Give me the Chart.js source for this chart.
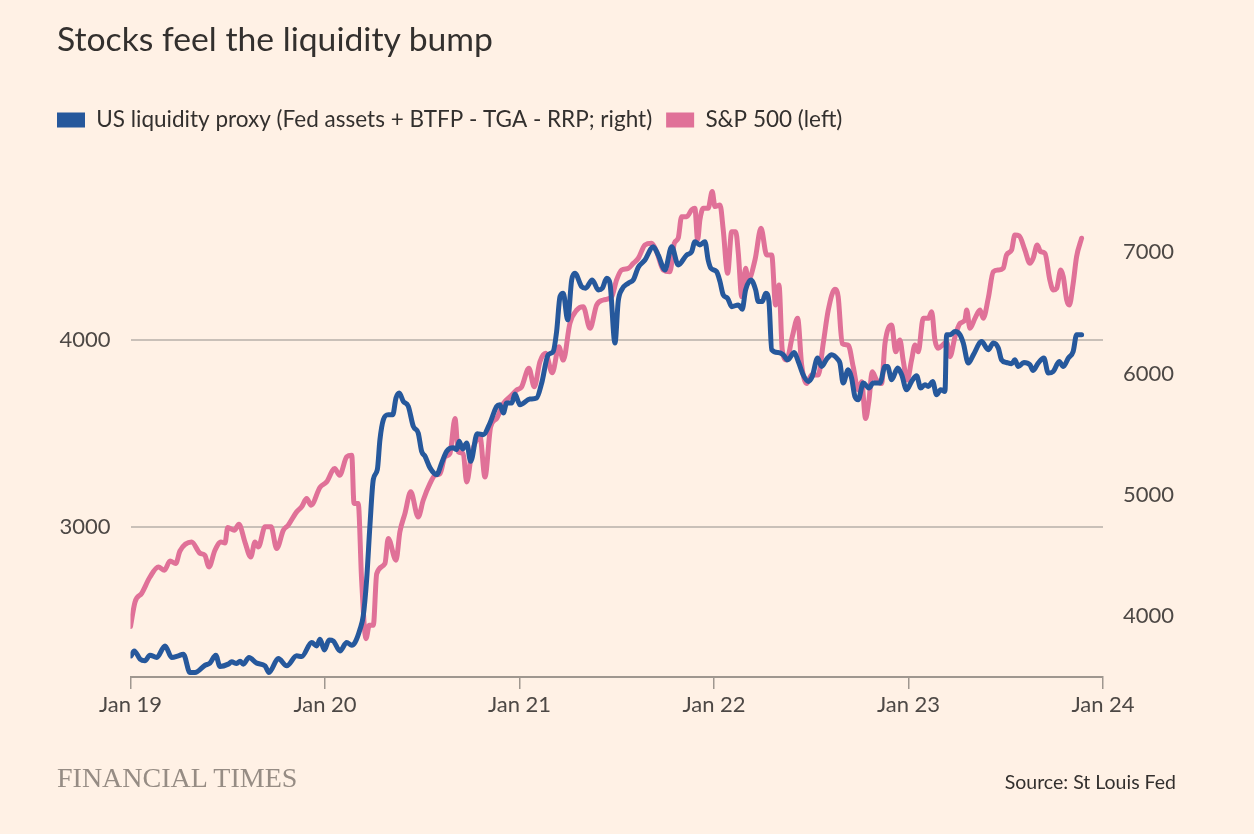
<!DOCTYPE html>
<html>
<head>
<meta charset="utf-8">
<script src="https://cdn.jsdelivr.net/npm/chart.js@4.4.0/dist/chart.umd.min.js"></script>
<style>
html, body { margin: 0; padding: 0; background: #fff1e5; }
#wrap { position: relative; width: 1254px; height: 834px; overflow: hidden; }
canvas { position: absolute; left: 0; top: 0; }
#title { position: absolute; left: 57px; top: 18px; font-family: 'Lato'; font-size: 33.7px; color: #33302e; white-space: nowrap; }
#ft { position: absolute; left: 57px; top: 762px; font-family: 'Liberation Serif'; font-size: 28px; color: #968c84; white-space: nowrap; }
#source { position: absolute; right: 78px; top: 770px; font-family: 'Lato'; font-size: 19.5px; color: #33302e; white-space: nowrap; }
</style>
</head>
<body>
<div id="wrap">
<canvas id="LiquidityChart" width="1254" height="834"></canvas>
<div id="title">Stocks feel the liquidity bump</div>
<div id="ft">FINANCIAL TIMES</div>
<div id="source">Source: St Louis Fed</div>
</div>
<script>
// months since Jan 2019
const liqMonths = [
    0.03, 0.23, 0.59, 0.89, 1.2, 1.62, 2.13, 2.54, 2.95, 3.26, 3.67, 3.98, 4.6, 4.9, 5.26, 5.52,
    6.03, 6.24, 6.55, 6.76, 6.96, 7.31, 7.79, 8.3, 8.54, 9.12, 9.64, 10.25, 10.56, 11.18, 11.49, 11.69,
    11.96, 12.25, 12.51, 12.92, 13.34, 13.65, 13.85, 14.16, 14.36, 14.57, 14.77, 14.98, 15.23, 15.39,
    15.6, 15.9, 16.18, 16.38, 16.58, 16.83, 17.14, 17.45, 17.75, 17.96, 18.17, 18.48, 18.89, 19.2,
    19.51, 19.91, 20.12, 20.28, 20.49, 20.74, 20.99, 21.39, 21.76, 22.18, 22.59, 22.79, 23.0, 23.21,
    23.52, 23.72, 24.03, 24.64, 25.06, 25.37, 25.77, 26.08, 26.29, 26.5, 26.7, 26.97, 27.22, 27.42,
    27.83, 28.08, 28.49, 28.86, 29.11, 29.38, 29.58, 29.89, 30.09, 30.3, 30.71, 31.02, 31.33, 31.74,
    32.25, 32.56, 32.97, 33.39, 33.79, 34.31, 34.62, 34.82, 35.13, 35.44, 35.64, 35.81, 36.16, 36.37,
    36.57, 36.84, 37.09, 37.5, 37.74, 37.95, 38.28, 38.57, 38.73, 38.98, 39.19, 39.39, 39.56, 39.96,
    40.27, 40.54, 40.95, 41.2, 41.5, 41.81, 42.06, 42.39, 42.64, 42.95, 43.26, 43.66, 43.77, 43.97,
    44.28, 44.49, 44.69, 44.9, 45.21, 45.56, 45.82, 46.24, 46.55, 46.71, 46.96, 47.33, 47.58, 47.88,
    48.19, 48.5, 48.75, 49.01, 49.22, 49.49, 49.73, 49.98, 50.25, 50.35, 50.56, 50.87, 51.18, 51.38,
    51.69, 52.0, 52.51, 52.92, 53.23, 53.54, 53.74, 54.05, 54.36, 54.56, 54.77, 55.12, 55.49, 55.69,
    56.0, 56.35, 56.62, 56.93, 57.3, 57.55, 57.86, 58.16, 58.37, 58.68
];
const liqValues = [
    3674, 3715, 3647, 3633, 3680, 3661, 3756, 3661, 3674, 3688, 3537, 3537, 3597, 3614, 3680, 3587,
    3606, 3625, 3611, 3630, 3606, 3661, 3614, 3592, 3537, 3652, 3592, 3674, 3669, 3784, 3756, 3811,
    3723, 3805, 3797, 3715, 3784, 3762, 3784, 3893, 4003, 4304, 4742, 5126, 5208, 5455,
    5619, 5660, 5660, 5798, 5839, 5770, 5729, 5564, 5510, 5359, 5318, 5222, 5167, 5263,
    5359, 5387, 5373, 5441, 5378, 5428, 5276, 5504, 5496, 5592, 5729, 5742, 5674, 5756,
    5756, 5830, 5742, 5789, 5798, 5921, 6153, 6181, 6345, 6633, 6661, 6441, 6770, 6825,
    6715, 6702, 6770, 6688, 6702, 6784, 6743, 6250, 6592, 6688, 6743, 6770, 6874, 6934,
    7044, 6975, 6852, 7044, 6893, 6975, 7002, 7085, 7058, 7085, 6934, 6866, 6838, 6756,
    6647, 6619, 6550, 6564, 6529, 6688, 6770, 6688, 6592, 6592, 6661, 6592, 6195, 6172,
    6154, 6112, 6172, 6098, 5989, 5934, 5975, 6126, 6057, 6118, 6154, 6112, 6085, 5921,
    6030, 5962, 5811, 5784, 5921, 5880, 5921, 5921, 6057, 6057, 5948, 6044, 5989, 5866,
    5934, 5981, 5880, 5907, 5893, 5934, 5825, 5866, 5852, 6318, 6318, 6345, 6318, 6250,
    6085, 6153, 6263, 6195, 6250, 6209, 6112, 6090, 6079, 6112, 6057, 6090, 6071, 6024,
    6085, 6126, 6003, 6016, 6098, 6057, 6126, 6181, 6318, 6318
];

const spMonths = [
    0.0, 0.28, 0.69, 1.2, 1.72, 2.09, 2.44, 2.79, 3.05, 3.77, 4.29, 4.59, 4.84, 5.21, 5.58, 5.83,
    6.0, 6.4, 6.69, 7.06, 7.42, 7.68, 7.89, 8.3, 8.67, 9.02, 9.43, 9.73, 10.25, 10.56, 10.87, 11.14,
    11.69, 12.1, 12.6, 12.9, 13.34, 13.65, 13.79, 14.05, 14.26, 14.53, 14.73, 14.98, 15.19, 15.7,
    15.9, 16.38, 16.62, 16.93, 17.29, 17.75, 18.06, 18.48, 18.79, 19.1, 19.4, 19.71, 20.02, 20.22,
    20.53, 20.74, 21.05, 21.56, 21.87, 22.22, 22.59, 23.0, 23.41, 23.83, 24.13, 24.58, 24.91, 25.26,
    25.61, 26.02, 26.43, 26.7, 27.11, 27.53, 27.93, 28.35, 28.76, 29.17, 29.69, 29.99, 30.3, 30.71,
    31.02, 31.33, 31.74, 32.15, 32.46, 32.87, 33.28, 33.55, 33.79, 34.0, 34.31, 34.62, 34.82, 34.99,
    35.13, 35.34, 35.64, 35.89, 36.06, 36.37, 36.57, 36.84, 37.09, 37.34, 37.5, 37.71, 37.95, 38.11,
    38.53, 38.9, 39.25, 39.56, 39.8, 40.01, 40.21, 40.48, 40.83, 41.16, 41.41, 41.72, 42.02, 42.43,
    42.74, 43.05, 43.46, 43.66, 43.91, 44.28, 44.59, 44.9, 45.11, 45.35, 45.56, 45.76, 46.03, 46.34,
    46.55, 46.96, 47.21, 47.47, 47.67, 47.92, 48.19, 48.4, 48.6, 48.91, 49.22, 49.43, 49.63, 49.83,
    50.1, 50.35, 50.56, 50.87, 51.18, 51.48, 51.59, 51.79, 52.1, 52.41, 52.61, 52.92, 53.23, 53.54,
    53.84, 54.05, 54.36, 54.56, 54.83, 55.18, 55.49, 55.69, 55.94, 56.15, 56.42, 56.72, 56.93, 57.14,
    57.39, 57.55, 57.76, 57.92, 58.16, 58.37, 58.68
];
const spValues = [
    2470, 2601, 2647, 2734, 2788, 2770, 2820, 2806, 2873, 2921, 2861, 2850, 2788, 2877, 2921, 2916,
    2998, 2984, 3016, 2921, 2841, 2921, 2895, 3002, 3002, 2886, 2984, 3011, 3082, 3109, 3153, 3118,
    3213, 3242, 3314, 3278, 3376, 3385, 3127, 3127, 2717, 2405, 2476, 2476, 2752, 2806,
    2940, 2824, 2975, 3073, 3189, 3055, 3144, 3234, 3278, 3287, 3376, 3394, 3581, 3403,
    3394, 3242, 3394, 3483, 3269, 3536, 3581, 3661, 3697, 3733, 3750, 3849, 3750, 3884,
    3929, 3825, 3964, 3893, 4089, 4160, 4178, 4063, 4187, 4214, 4232, 4321, 4374, 4383,
    4410, 4437, 4508, 4517, 4472, 4374, 4365, 4517, 4544, 4659, 4659, 4695, 4704, 4535,
    4642, 4704, 4704, 4793, 4713, 4722, 4588, 4357, 4579, 4579, 4464, 4232, 4383, 4321,
    4428, 4597, 4455, 4455, 4187, 4294, 3947, 3893, 4018, 4116, 3866, 3768, 3813, 3813,
    3982, 4160, 4271, 4232, 3982, 3973, 3857, 3733, 3777, 3581, 3679, 3830, 3786, 3768,
    3982, 4080, 3937, 4000, 3893, 3786, 3893, 3973, 3937, 4116, 4116, 4151, 4000, 3956,
    3973, 3991, 3911, 4018, 4089, 4107, 4160, 4063, 4116, 4160, 4116, 4223, 4365, 4374,
    4383, 4455, 4481, 4561, 4556, 4481, 4410, 4437, 4508, 4472, 4463, 4321, 4267, 4276,
    4374, 4338, 4214, 4187, 4303, 4445, 4544
];

const xTickMonths = [0, 12, 24, 36, 48, 60];
const xTickLabels = ['Jan 19', 'Jan 20', 'Jan 21', 'Jan 22', 'Jan 23', 'Jan 24'];
const leftTicks = [3000, 4000];
const rightTicks = [4000, 5000, 6000, 7000];

const fontFamily = 'Lato';
const textColor = '#33302e';
const tickColor = '#4d4845';

const data_Liquidity = {
    datasets: [{
        label: 'US liquidity proxy (Fed assets + BTFP - TGA - RRP; right)',
        data: liqMonths.map((m, i) => ({x: m, y: liqValues[i]})),
        yAxisID: 'yRight',
        borderColor: '#26589c',
        backgroundColor: '#26589c',
        borderWidth: 5,
        pointRadius: 0,
        cubicInterpolationMode: 'monotone',
        borderCapStyle: 'round',
        borderJoinStyle: 'round'
    }, {
        label: 'S&P 500 (left)',
        data: spMonths.map((m, i) => ({x: m, y: spValues[i]})),
        yAxisID: 'yLeft',
        borderColor: '#e07198',
        backgroundColor: '#e07198',
        borderWidth: 5,
        pointRadius: 0,
        cubicInterpolationMode: 'monotone',
        borderCapStyle: 'round',
        borderJoinStyle: 'round'
    }]
};

const config_Liquidity = {
    type: 'line',
    data: data_Liquidity,
    options: {
        responsive: false,
        animation: false,
        layout: {
            padding: {left: 43, right: 51, top: 94.75, bottom: 97}
        },
        scales: {
            x: {
                type: 'linear',
                min: 0,
                max: 60,
                afterBuildTicks: (scale) => { scale.ticks = xTickMonths.map(v => ({value: v})); },
                afterFit: (scale) => { scale.height = 60; },
                ticks: {
                    callback: (value, index) => xTickLabels[index],
                    autoSkip: false,
                    maxRotation: 0,
                    padding: 3,
                    color: tickColor,
                    font: {family: fontFamily, size: 22}
                },
                grid: {
                    drawOnChartArea: false,
                    drawTicks: true,
                    tickLength: 12,
                    color: '#9f978f',
                    lineWidth: 1.5
                },
                border: {color: '#9f978f', width: 2}
            },
            yLeft: {
                position: 'left',
                min: 2200,
                max: 5062,
                afterBuildTicks: (scale) => { scale.ticks = leftTicks.map(v => ({value: v})); },
                afterFit: (scale) => { scale.width = 87.5; },
                ticks: {
                    callback: (value) => String(value),
                    padding: 20,
                    color: tickColor,
                    font: {family: fontFamily, size: 22}
                },
                grid: {color: '#c9c0b8', lineWidth: 2, drawTicks: false},
                border: {display: false}
            },
            yRight: {
                position: 'right',
                min: 3500,
                max: 7912,
                afterBuildTicks: (scale) => { scale.ticks = rightTicks.map(v => ({value: v})); },
                afterFit: (scale) => { scale.width = 100; },
                ticks: {
                    callback: (value) => String(value),
                    padding: 20,
                    color: tickColor,
                    font: {family: fontFamily, size: 22}
                },
                grid: {display: false, drawTicks: false},
                border: {display: false}
            }
        },
        plugins: {
            legend: {
                position: 'top',
                align: 'start',
                labels: {
                    boxWidth: 28,
                    boxHeight: 15,
                    padding: 14,
                    color: textColor,
                    font: {family: fontFamily, size: 22.5},
                    generateLabels: (chart) => Chart.defaults.plugins.legend.labels.generateLabels(chart)
                        .map(item => Object.assign(item, {lineWidth: 0}))
                }
            },
            tooltip: {enabled: false}
        }
    }
};

const myChart_Liquidity = new Chart(
    document.getElementById('LiquidityChart'),
    config_Liquidity
);
</script>
</body>
</html>
